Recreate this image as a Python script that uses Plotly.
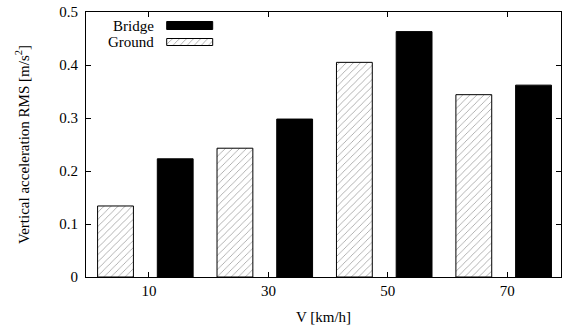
import plotly.graph_objects as go

speeds = ["10", "30", "50", "70"]
ground = [0.134, 0.243, 0.405, 0.344]
bridge = [0.223, 0.298, 0.463, 0.362]
series_names = ["Bridge", "Ground"]
y_ticks = [0, 0.1, 0.2, 0.3, 0.4, 0.5]
y_tick_labels = ["0", "0.1", "0.2", "0.3", "0.4", "0.5"]

FONT = "Liberation Serif, Times New Roman, serif"
FS = 15
W, H = 562, 332
ML, MR, MT, MB = 86, 1, 12, 55
PW, PH = W - ML - MR, H - MT - MB

idx = list(range(len(speeds)))
x_ground = [2 * i for i in idx]
x_bridge = [2 * i + 1 for i in idx]
tick_pos = [2 * i + 0.56 for i in idx]

hatch = dict(shape="/", size=5, solidity=0.15, fgcolor="#333333", bgcolor="white")

fig = go.Figure()
fig.add_trace(go.Bar(x=x_ground, y=ground, width=0.6, name="Ground",
                     marker=dict(color="white", pattern=hatch,
                                 line=dict(color="black", width=1)),
                     showlegend=False))
fig.add_trace(go.Bar(x=x_bridge, y=bridge, width=0.6, name="Bridge",
                     marker=dict(color="black", line=dict(color="black", width=1)),
                     showlegend=False))

# custom gnuplot-style key (text left, swatch right), in pixel coordinates of the plot area
key_x = 103.7
key_w = 46
key_rows = [(9.5, 8), (26.5, 7)]  # (top offset, height) per legend row
fig.add_trace(go.Bar(x=[key_x], y=[key_rows[0][1]], base=[key_rows[0][0]], width=key_w,
                     xaxis="x2", yaxis="y2", showlegend=False, hoverinfo="skip",
                     marker=dict(color="black", line=dict(color="black", width=1))))
fig.add_trace(go.Bar(x=[key_x], y=[key_rows[1][1]], base=[key_rows[1][0]], width=key_w,
                     xaxis="x2", yaxis="y2", showlegend=False, hoverinfo="skip",
                     marker=dict(color="white", pattern=hatch,
                                 line=dict(color="black", width=1))))
for name, (top, h) in zip(series_names, key_rows):
    fig.add_annotation(x=key_x - key_w / 2 - 11, y=top + h / 2, xref="x2", yref="y2",
                       text=name, showarrow=False, xanchor="right", yanchor="middle",
                       font=dict(family=FONT, size=FS, color="black"))

axis_common = dict(ticks="inside", ticklen=5, tickcolor="black", mirror="allticks",
                   showline=True, linecolor="black", linewidth=1, showgrid=False,
                   zeroline=False, tickfont=dict(family=FONT, size=FS, color="black"))

fig.update_layout(
    width=W, height=H,
    margin=dict(l=ML, r=MR, t=MT, b=MB),
    plot_bgcolor="white", paper_bgcolor="white",
    font=dict(family=FONT, size=FS, color="black"),
    barmode="overlay",
    xaxis=dict(range=[-0.494, 7.46], tickvals=tick_pos, ticktext=speeds,
               title=dict(text="V [km/h]", standoff=13,
                          font=dict(family=FONT, size=FS, color="black")),
               **axis_common),
    yaxis=dict(range=[0, 0.5], tickvals=y_ticks, ticktext=y_tick_labels,
               ticklabelstandoff=4,
               title=dict(text="Vertical acceleration RMS [m/s<sup>2</sup>]", standoff=26,
                          font=dict(family=FONT, size=FS, color="black")),
               **axis_common),
    xaxis2=dict(overlaying="x", range=[0, PW], visible=False, anchor="y2"),
    yaxis2=dict(overlaying="y", range=[PH, 0], visible=False, anchor="x2"),
)

fig.write_html("out.html")
